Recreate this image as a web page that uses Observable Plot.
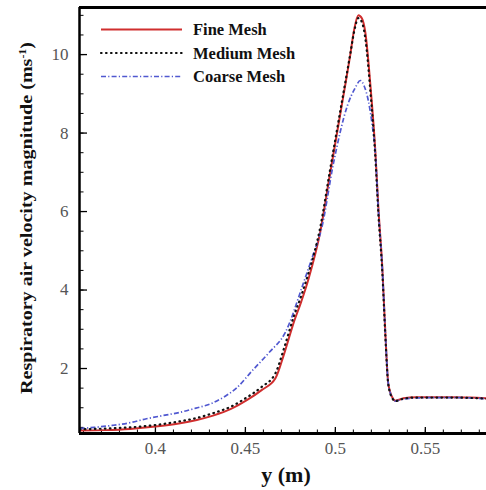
<!DOCTYPE html>
<html><head><meta charset="utf-8">
<script src="https://cdn.jsdelivr.net/npm/d3@7"></script>
<script src="https://cdn.jsdelivr.net/npm/@observablehq/plot@0.6"></script>
<style>
body{margin:0;background:#fff}
#chart{position:relative;width:486px;height:490px;overflow:hidden}
#overlay{position:absolute;left:0;top:0;pointer-events:none}
</style>
</head><body><div id="chart"></div>
<script>
// ---- data ----
const fineX = [0.358,0.372,0.386,0.4,0.413,0.423,0.432,0.442,0.451,0.459,0.4667,0.4717,0.4767,0.481,0.485,0.4917,0.497,0.5028,0.5083,0.5105,0.5128,0.5148,0.5167,0.5194,0.5222,0.5239,0.5261,0.5278,0.5294,0.5317,0.5333,0.5378,0.545,0.555,0.565,0.575,0.584];
const fineY = [0.42,0.43,0.46,0.52,0.6,0.69,0.8,0.97,1.2,1.45,1.75,2.4,3.15,3.7,4.27,5.5,6.95,8.5,10.0,10.65,11.0,10.92,10.55,9.26,7.55,6.1,4.57,2.89,1.62,1.26,1.18,1.24,1.27,1.27,1.27,1.26,1.24];
const mediumX = fineX;
const mediumY = [0.45,0.47,0.5,0.56,0.65,0.74,0.86,1.03,1.27,1.53,1.88,2.55,3.3,3.85,4.42,5.62,7.05,8.58,10.02,10.6,10.93,10.82,10.4,9.1,7.4,5.95,4.45,2.8,1.6,1.24,1.17,1.23,1.26,1.26,1.26,1.25,1.23];
const coarseX = [0.358,0.366,0.376,0.386,0.395,0.404,0.4133,0.4225,0.4317,0.439,0.445,0.4539,0.463,0.4722,0.4822,0.4872,0.4925,0.4989,0.5067,0.511,0.5139,0.516,0.5183,0.5205,0.5222,0.5239,0.5261,0.5278,0.5294,0.5317,0.5333,0.5378,0.545,0.555,0.565,0.575,0.584];
const coarseY = [0.47,0.5,0.55,0.62,0.72,0.8,0.88,0.99,1.12,1.3,1.5,1.95,2.4,2.92,4.17,4.84,5.6,7.22,8.7,9.15,9.34,9.2,8.83,8.2,7.5,6.05,4.55,2.9,1.62,1.25,1.17,1.22,1.25,1.26,1.26,1.25,1.23];

const seriesNames = ["Fine Mesh","Medium Mesh","Coarse Mesh"];
const xTicks = [0.4,0.45,0.5,0.55];
const yTicks = [2,4,6,8,10];
const xMinorTicks = d3.range(36,59).map(d=>d/100);
const yMinorTicks = d3.range(1,23).map(d=>d/2);
const xDomain = [0.3578,0.584];
const yDomain = [0.344,11.2];
const xTitle = "y (m)";
const yTitle = "Respiratory air velocity magnitude (ms";

// ---- styles ----
const styles = {
  "Fine Mesh":   {stroke:"#d02e2e", strokeWidth:2, strokeDasharray:null, strokeLinecap:"butt"},
  "Medium Mesh": {stroke:"#111111", strokeWidth:2.2, strokeDasharray:"0.6,4.4", strokeLinecap:"round"},
  "Coarse Mesh": {stroke:"#5058d0", strokeWidth:1.7, strokeDasharray:"5,2.2,1.2,2.2", strokeLinecap:"butt"}
};
const toRows = (xs, ys) => xs.map((x,i)=>({x, y: ys[i]}));
const series = {
  "Fine Mesh": toRows(fineX, fineY),
  "Medium Mesh": toRows(mediumX, mediumY),
  "Coarse Mesh": toRows(coarseX, coarseY)
};
const drawOrder = ["Fine Mesh","Coarse Mesh","Medium Mesh"];

const plot = Plot.plot({
  width:486, height:490,
  marginLeft:79, marginRight:0, marginTop:7, marginBottom:57,
  style:{fontFamily:"'Liberation Serif', serif", fontSize:"17px", background:"#fff", color:"#000"},
  x:{domain:xDomain, label:null},
  y:{domain:yDomain, label:null},
  marks:[
    Plot.axisX(xMinorTicks,{tickSize:-3.5, tickFormat:()=>"", stroke:"#000"}),
    Plot.axisY(yMinorTicks,{tickSize:-4.5, tickFormat:()=>"", stroke:"#000"}),
    Plot.axisX(xTicks,{tickSize:-6, tickPadding:14, tickFormat:d=>String(d), stroke:"#000", fill:"#555", strokeWidth:1.3}),
    Plot.axisY(yTicks,{tickSize:-8, tickPadding:19, tickFormat:d=>String(d), stroke:"#000", fill:"#555", strokeWidth:1.3}),
    ...drawOrder.map(name => Plot.line(series[name], {x:"x", y:"y", clip:true, curve:"monotone-x", ...styles[name]})),
    Plot.ruleY([yDomain[1]],{strokeWidth:3, stroke:"#000"}),
    Plot.ruleY([yDomain[0]],{strokeWidth:3, stroke:"#000"}),
    Plot.ruleX([xDomain[0]],{strokeWidth:2.5, stroke:"#000"})
  ]
});
const chart = document.getElementById("chart");
chart.appendChild(plot);

// ---- legend & titles overlay ----
const svg = d3.select(chart).append("svg").attr("id","overlay")
  .attr("width",486).attr("height",490)
  .style("font-family","'Liberation Serif', serif");
const legend = svg.append("g");
seriesNames.forEach((name,i)=>{
  const y = 29.5 + i*23.5;
  const s = styles[name];
  legend.append("line").attr("x1",101).attr("x2",182).attr("y1",y).attr("y2",y)
    .attr("stroke",s.stroke).attr("stroke-width",s.strokeWidth)
    .attr("stroke-dasharray",s.strokeDasharray).attr("stroke-linecap",s.strokeLinecap);
  legend.append("text").attr("x",193).attr("y",y+5.5).attr("font-weight","bold")
    .attr("font-size",16.5).attr("fill","#111").text(name);
});
svg.append("text").attr("x",286).attr("y",482).attr("text-anchor","middle")
  .attr("font-weight","bold").attr("font-size",22).attr("fill","#111").text(xTitle);
const yt = svg.append("text").attr("transform","translate(32,218) rotate(-90)")
  .attr("text-anchor","middle").attr("font-weight","bold").attr("font-size",17).attr("fill","#111")
  .attr("textLength",352).attr("lengthAdjust","spacingAndGlyphs");
yt.append("tspan").text(yTitle);
yt.append("tspan").attr("dy",-6).attr("font-size",10).text("-1");
yt.append("tspan").attr("dy",6).text(")");
</script>
</body></html>
